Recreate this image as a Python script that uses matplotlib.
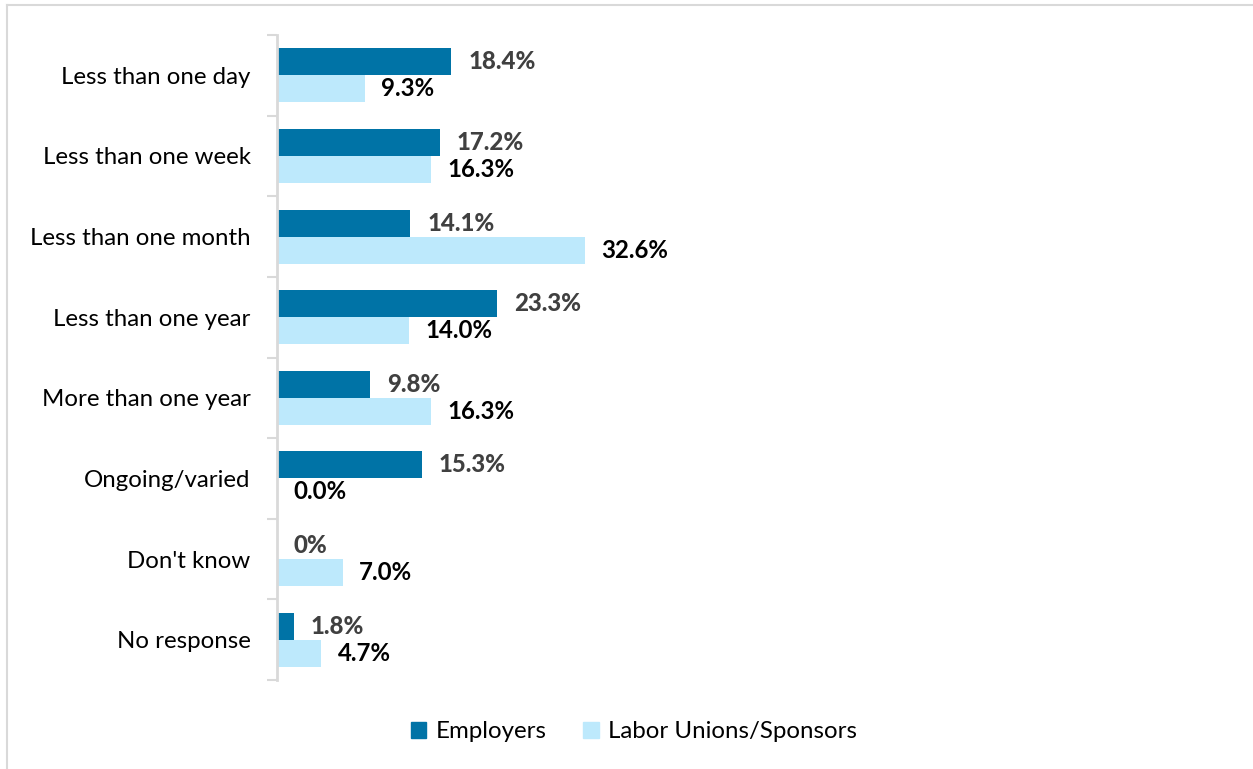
import numpy as np
import matplotlib.pyplot as plt
from matplotlib.lines import Line2D
from matplotlib.patches import Patch

categories = ["Less than one day", "Less than one week", "Less than one month",
              "Less than one year", "More than one year", "Ongoing/varied",
              "Don't know", "No response"]
employers = [18.4, 17.2, 14.1, 23.3, 9.8, 15.3, 0.0, 1.8]
unions = [9.3, 16.3, 32.6, 14.0, 16.3, 0.0, 7.0, 4.7]
emp_labels = ["18.4%", "17.2%", "14.1%", "23.3%", "9.8%", "15.3%", "0%", "1.8%"]
uni_labels = ["9.3%", "16.3%", "32.6%", "14.0%", "16.3%", "0.0%", "7.0%", "4.7%"]
series_names = ["Employers", "Labor Unions/Sponsors"]

dark = "#0073a6"
light = "#bde9fc"
font = ["Lato", "DejaVu Sans"]
plt.rcParams["font.family"] = font
fs = 17.3

W, H = 1253, 769
fig = plt.figure(figsize=(W / 100, H / 100), dpi=100)

# plot area in pixels: left 277, right 1230, top 35, bottom 680
ax = fig.add_axes([277 / W, 1 - 680 / H, (1230 - 277) / W, (680 - 35) / H])

n = len(categories)
y = np.arange(n)
bh = 0.335
ax.barh(y - bh / 2, employers, height=bh, color=dark, label=series_names[0])
ax.barh(y + bh / 2, unions, height=bh, color=light, label=series_names[1])

for i in range(n):
    ax.annotate(emp_labels[i], (employers[i], y[i] - bh / 2), xytext=(17, 0),
                textcoords="offset pixels", va="center", ha="left",
                fontsize=fs, fontweight=900, color="#404040")
    ax.annotate(uni_labels[i], (unions[i], y[i] + bh / 2), xytext=(16, 0),
                textcoords="offset pixels", va="center", ha="left",
                fontsize=fs, fontweight="bold", color="black")

ax.set_ylim(n - 0.5, -0.5)
ax.set_xlim(0, (1230 - 277) / 9.46)
ax.set_yticks(y)
ax.set_yticklabels(categories, fontsize=fs)
ax.tick_params(axis="y", length=0, pad=19)
ax.set_yticks(np.arange(n + 1) - 0.5, minor=True)
ax.tick_params(axis="y", which="minor", length=7, width=1.5, color="#d9d9d9")
ax.set_xticks([])
for s in ["top", "right", "bottom"]:
    ax.spines[s].set_visible(False)
ax.spines["left"].set_color("#d9d9d9")
ax.spines["left"].set_linewidth(2)

handles = [Patch(color=dark), Patch(color=light)]
fig.legend(handles, series_names, loc="center", bbox_to_anchor=(634 / W, 1 - 732 / H),
           ncol=2, frameon=False, fontsize=fs, handlelength=0.65, handleheight=0.65,
           handletextpad=0.4, columnspacing=1.5)

# chart border (top and left visible)
fig.add_artist(Line2D([7 / W, 1], [1 - 5 / H, 1 - 5 / H], color="#d9d9d9", lw=1.5))
fig.add_artist(Line2D([7 / W, 7 / W], [0, 1 - 5 / H], color="#d9d9d9", lw=1.5))

fig.savefig("out.png", dpi=100)
